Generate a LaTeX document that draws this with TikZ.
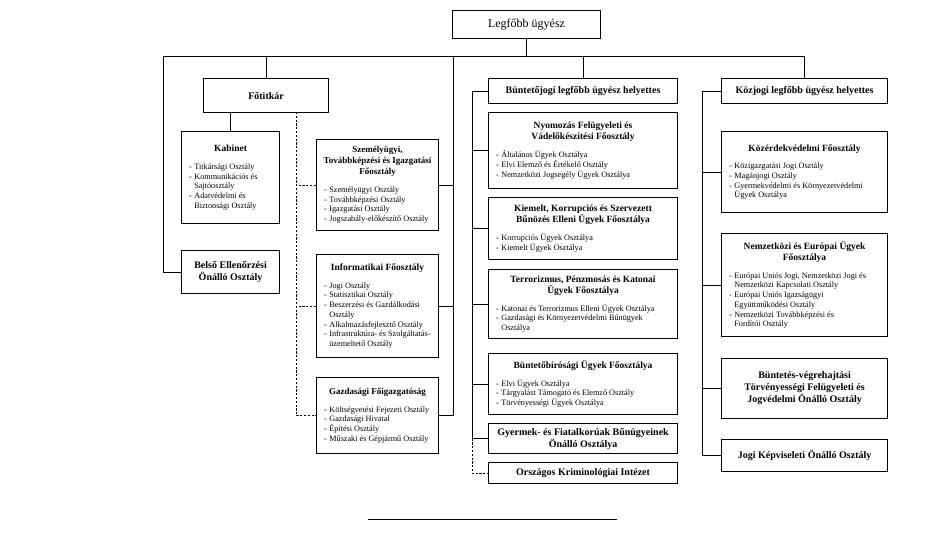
\documentclass[tikz,border=0pt]{standalone}
\usepackage{fontspec}
\setmainfont{Liberation Serif}
\newcommand\bxt[1]{{\centering\bfseries\fontsize{9.5}{11}\selectfont #1\par}}
\newcommand\bxts[1]{{\centering\bfseries\fontsize{9}{11}\selectfont #1\par}}
\newcommand\bxh[1]{{\centering\bfseries\fontsize{10}{12}\selectfont #1\par}}
\newcommand\bxgap{\vspace{8pt}}
\newcommand\bxi[1]{{\fontsize{8.2}{9.7}\selectfont\parfillskip=0pt plus 1fil\noindent\hspace*{4.5pt}\makebox[0.65em][l]{-}#1\par}}
\newcommand\bxc[1]{{\fontsize{8.2}{9.7}\selectfont\parfillskip=0pt plus 1fil\noindent\hspace*{4.5pt}\hspace*{0.65em}#1\par}}
\tikzset{
  bx/.style={draw, line width=1.1pt, anchor=north west, inner xsep=3pt, inner ysep=2pt, align=flush left, fill=white},
  conn/.style={line width=0.9pt},
  dconn/.style={line width=0.9pt, dash pattern=on 2.2pt off 1.6pt}
}
\begin{document}
\begin{tikzpicture}[x=1pt,y=-1pt]
\useasboundingbox (0,0) rectangle (949,535);
% top
\node[draw, line width=1.1pt, minimum width=148, minimum height=28, anchor=north west, inner sep=0pt, font=\fontsize{12}{14}\selectfont] (top) at (452,10) {Legfőbb ügyész};
% left column
\node[bx, minimum height=34, text width=119] (fot) at (203,78) {\bxh{Főtitkár}};
\node[bx, minimum height=92, text width=92] (kab) at (181,131) {\bxt{Kabinet}\bxgap\bxi{Titkársági Osztály}\bxi{Kommunikációs és}\bxc{Sajtóosztály}\bxi{Adatvédelmi és}\bxc{Biztonsági Osztály}};
\node[bx, minimum height=43, text width=92] (bel) at (181,250) {\bxh{Belső Ellenőrzési\\Önálló Osztály}};
% middle column
\node[bx, minimum height=91, text width=116] (sze) at (316,139) {\bxts{Személyügyi,\\Továbbképzési és Igazgatási\\Főosztály}\bxgap\bxi{Személyügyi Osztály}\bxi{Továbbképzési Osztály}\bxi{Igazgatási Osztály}\bxi{Jogszabály-előkészítő Osztály}};
\node[bx, minimum height=103, text width=116] (inf) at (316,254) {\bxt{Informatikai Főosztály}\bxgap\bxi{Jogi Osztály}\bxi{Statisztikai Osztály}\bxi{Beszerzési és Gazdálkodási}\bxc{Osztály}\bxi{Alkalmazásfejlesztő Osztály}\bxi{Infrastruktúra- és Szolgáltatás-}\bxc{üzemeltető Osztály}};
\node[bx, minimum height=76, text width=116] (gaz) at (316,377) {\bxts{Gazdasági Főigazgatóság}\bxgap\bxi{Költségvetési Fejezeti Osztály}\bxi{Gazdasági Hivatal}\bxi{Építési Osztály}\bxi{Műszaki és Gépjármű Osztály}};
% criminal column
\node[bx, minimum height=25, text width=183] (bun) at (488,78) {\bxh{Büntetőjogi legfőbb ügyész helyettes}};
\node[bx, minimum height=76, text width=183] (nyo) at (488,112) {\bxt{Nyomozás Felügyeleti és\\Vádelőkészítési Főosztály}\bxgap\bxi{Általános Ügyek Osztálya}\bxi{Elvi Elemző és Értékelő Osztály}\bxi{Nemzetközi Jogsegély Ügyek Osztálya}};
\node[bx, minimum height=62, text width=183] (kie) at (488,197) {\bxt{Kiemelt, Korrupciós és Szervezett\\Bűnözés Elleni Ügyek Főosztálya}\bxgap\bxi{Korrupciós Ügyek Osztálya}\bxi{Kiemelt Ügyek Osztálya}};
\node[bx, minimum height=69, text width=183] (ter) at (488,269) {\bxt{Terrorizmus, Pénzmosás és Katonai\\Ügyek Főosztálya}\bxgap\bxi{Katonai és Terrorizmus Elleni Ügyek Osztálya}\bxi{Gazdasági és Környezetvédelmi Bűnügyek}\bxc{Osztálya}};
\node[bx, minimum height=61, text width=183] (bir) at (488,353) {\bxt{Büntetőbírósági Ügyek Főosztálya}\bxgap\bxi{Elvi Ügyek Osztálya}\bxi{Tárgyalást Támogató és Elemző Osztály}\bxi{Törvényességi Ügyek Osztálya}};
\node[bx, minimum height=30, text width=183] (gye) at (488,423) {\bxh{Gyermek- és Fiatalkorúak Bűnügyeinek\\Önálló Osztálya}};
\node[bx, minimum height=21, text width=183] (ors) at (488,462) {\bxh{Országos Kriminológiai Intézet}};
% public law column
\node[bx, minimum height=25, text width=160] (koz) at (721,78) {\bxh{Közjogi legfőbb ügyész helyettes}};
\node[bx, minimum height=81, text width=160] (kze) at (721,131) {\bxt{Közérdekvédelmi Főosztály}\bxgap\bxi{Közigazgatási Jogi Osztály}\bxi{Magánjogi Osztály}\bxi{Gyermekvédelmi és Környezetvédelmi}\bxc{Ügyek Osztálya}};
\node[bx, minimum height=103, text width=160] (nem) at (721,233) {\bxt{Nemzetközi és Európai Ügyek\\Főosztálya}\bxgap\bxi{Európai Uniós Jogi, Nemzetközi Jogi és}\bxc{Nemzetközi Kapcsolati Osztály}\bxi{Európai Uniós Igazságügyi}\bxc{Együttműködési Osztály}\bxi{Nemzetközi Továbbképzési és}\bxc{Fordítói Osztály}};
\node[bx, minimum height=60, text width=160] (bvh) at (721,358) {\bxh{Büntetés-végrehajtási\\Törvényességi Felügyeleti és\\Jogvédelmi Önálló Osztály}};
\node[bx, minimum height=32, text width=160] (jog) at (721,439) {\bxh{Jogi Képviseleti Önálló Osztály}};
% bus coordinates
\coordinate (busL) at (163,56);
\coordinate (busR) at (koz.north |- busL);
\coordinate (busM) at (453,56);
\coordinate (fd) at (296,112);
\coordinate (bx) at (472,0);
\coordinate (kx) at (702,0);
\coordinate (fl) at (368,519);
\coordinate (fr) at (617,519);
% connectors
\draw[conn] (top.south) -- (top.south |- busL);
\draw[conn] (busL) -- (busR);
\draw[conn] (busL) |- (bel.west);
\draw[conn] (fot.north) -- (fot.north |- busL);
\draw[conn] (kab.north) -- (kab.north |- fot.south);
\draw[conn] (busM) |- (gaz.east);
\draw[conn] (sze.east) -- (sze.east -| busM);
\draw[conn] (inf.east) -- (inf.east -| busM);
\draw[dconn] (fd) |- (gaz.west);
\draw[dconn] (sze.west) -- (sze.west -| fd);
\draw[dconn] (inf.west) -- (inf.west -| fd);
\draw[conn] (bun.north) -- (bun.north |- busL);
\draw[conn] (koz.north) -- (busR);
\draw[conn] (bun.west) -- (bun.west -| bx) -- (gye.west -| bx) -- (gye.west);
\draw[conn] (nyo.west) -- (nyo.west -| bx);
\draw[conn] (kie.west) -- (kie.west -| bx);
\draw[conn] (ter.west) -- (ter.west -| bx);
\draw[conn] (bir.west) -- (bir.west -| bx);
\draw[dconn] (gye.west -| bx) |- (ors.west);
\draw[conn] (koz.west) -- (koz.west -| kx) -- (jog.west -| kx) -- (jog.west);
\draw[conn] (kze.west) -- (kze.west -| kx);
\draw[conn] (nem.west) -- (nem.west -| kx);
\draw[conn] (bvh.west) -- (bvh.west -| kx);
\draw[line width=0.8pt] (fl) -- (fr);
\end{tikzpicture}
\end{document}
